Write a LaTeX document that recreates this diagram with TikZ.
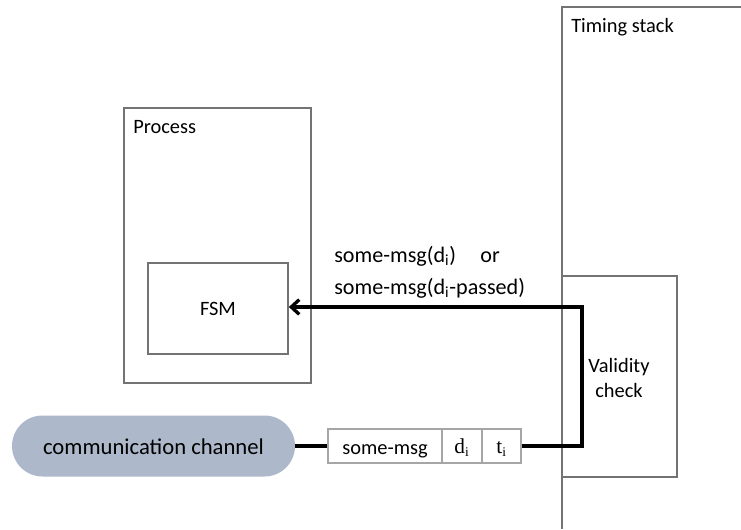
\documentclass[tikz,border=0pt]{standalone}
\usepackage{fontspec}
\usetikzlibrary{arrows.meta}
\setmainfont{Carlito}
\newfontfamily\mathlike{Liberation Serif}
\begin{document}
\begin{tikzpicture}[x=0.75pt,y=-0.75pt,
  frame/.style={draw=black!55,line width=1.2pt},
  slot/.style={draw=black!35,line width=0.8pt,text height=0pt,text depth=0pt,inner sep=0pt,minimum height=34*0.75pt},
  flow/.style={draw=black,line width=2.5pt},
  lbl/.style={font=\fontsize{15.3}{17}\selectfont,inner sep=0pt},
  chan/.style={fill=chanfill,draw=none,rounded corners=30.5*0.75pt,text height=0pt,text depth=0pt}
]
\definecolor{chanfill}{HTML}{ADB9CA}
\useasboundingbox (0,0) rectangle (741,529);

% Timing stack (open to the right and bottom)
\draw[frame] (741,7) -- (562,7) -- (562,529);
\node[lbl,anchor=north west] (ts) at (571,18) {Timing stack};

% Validity check
\draw[frame] (562,276) rectangle (677,477);
\node[lbl,align=center] (vclbl) at (619,378) {Validity\\[2pt]check};

% Process with FSM
\draw[frame] (124,108) rectangle (311,383);
\node[lbl,anchor=north west] (proc) at (133,120) {Process};
\node[frame,minimum width=140*0.75pt,minimum height=91*0.75pt,inner sep=0pt,text height=0pt,text depth=0pt,font=\fontsize{15.3}{17}\selectfont] (fsm) at (218,308.5) {\raisebox{-4.9pt}{FSM}};

% Communication channel
\node[chan,minimum width=283*0.75pt,minimum height=61*0.75pt,inner sep=0pt,font=\fontsize{17}{19}\selectfont] (ch) at (153.5,446) {\raisebox{-6.5pt}{communication channel}};

% Message fields
\node[slot,minimum width=114*0.75pt,font=\fontsize{15.3}{17}\selectfont] (msg) at (385,446) {\raisebox{-6.5pt}{some-msg}};
\node[slot,minimum width=40*0.75pt,font=\fontsize{16}{18}\selectfont\mathlike] (d) at (462,446) {\raisebox{-5.3pt}{d\textsubscript{\fontsize{10}{10}\selectfont i}}};
\node[slot,minimum width=39*0.75pt,font=\fontsize{16}{18}\selectfont\mathlike] (t) at (501.5,446) {\raisebox{-5.3pt}{t\textsubscript{\fontsize{10}{10}\selectfont i}}};

% Flow of the message through the validity check into the FSM
\coordinate (turnA) at (582,446);
\coordinate (turnB) at (582,307);
\draw[flow] (ch.east) -- (msg.west);
\draw[flow,-{Straight Barb[length=6pt,width=11pt]}] (t.east) -- (turnA) -- (turnB) -- (fsm.east |- turnB);

% Returned message label
\node[lbl,font=\fontsize{16.6}{18}\selectfont,anchor=west] (m1) at (334,256) {some-msg(d\textsubscript{i})\hspace{1.1em}or};
\node[lbl,font=\fontsize{16.6}{18}\selectfont,anchor=west] (m2) at (334,288) {some-msg(d\textsubscript{i}-passed)};
\end{tikzpicture}
\end{document}
